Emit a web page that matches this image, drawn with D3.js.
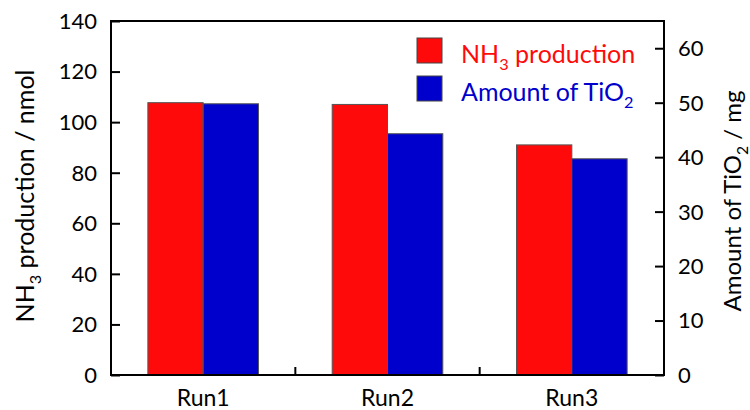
<!DOCTYPE html>
<html>
<head>
<meta charset="utf-8">
<script src="https://cdn.jsdelivr.net/npm/d3@7"></script>
<style>
  html, body { margin: 0; padding: 0; background: #fff; }
  svg { display: block; font-family: Lato, "Open Sans", sans-serif; }
</style>
</head>
<body>
<svg id="chart" width="750" height="410"></svg>
<script>
// Runs and their measured values
const categories = ["Run1", "Run2", "Run3"];
const nh3Production = [107.7, 107.0, 91.0];   // nmol (left axis)
const tio2Amount = [49.8, 44.3, 39.7];        // mg (right axis)
const leftTicks = [0, 20, 40, 60, 80, 100, 120, 140];
const rightTicks = [0, 10, 20, 30, 40, 50, 60];

const svg = d3.select("#chart");
const margin = { left: 111, right: 86, top: 21, bottom: 35 };
const W = 750, H = 410;
const x0 = margin.left, x1 = W - margin.right;
const y0 = H - margin.bottom, y1 = margin.top;

const x = d3.scaleBand().domain(categories).range([x0, x1]).paddingInner(0).paddingOuter(0);
const yL = d3.scaleLinear().domain([0, 140]).range([y0, y1]);
const yR = d3.scaleLinear().domain([0, 65]).range([y0, y1]);

const barW = x.bandwidth() * 0.3;
const red = "#ff0a0a", blue = "#0000cc";

// bars
const g = svg.append("g");
categories.forEach((c, i) => {
  const cx = x(c) + x.bandwidth() / 2;
  g.append("rect")
    .attr("x", cx - barW).attr("y", yL(nh3Production[i]))
    .attr("width", barW).attr("height", y0 - yL(nh3Production[i]))
    .attr("fill", red).attr("stroke", "#555").attr("stroke-width", 1);
  g.append("rect")
    .attr("x", cx).attr("y", yR(tio2Amount[i]))
    .attr("width", barW).attr("height", y0 - yR(tio2Amount[i]))
    .attr("fill", blue).attr("stroke", "#555").attr("stroke-width", 1);
});

// frame: left, right, bottom axes plus top line
const axisStroke = 2;
svg.append("path")
  .attr("d", `M${x0},${y1} L${x1},${y1} L${x1},${y0} L${x0},${y0} Z`)
  .attr("fill", "none").attr("stroke", "#000").attr("stroke-width", axisStroke);

const tickFont = 22;
const titleFont = 25;

// left axis ticks (inward)
const left = svg.append("g").attr("transform", `translate(${x0},0)`)
  .call(d3.axisRight(yL).tickValues(leftTicks).tickSize(9).tickFormat(""));
left.select(".domain").remove();
left.selectAll("line").attr("stroke", "#000").attr("stroke-width", axisStroke);
svg.append("g").selectAll("text").data(leftTicks).join("text")
  .attr("x", x0 - 14).attr("y", d => yL(d)).attr("dy", "0.36em")
  .attr("text-anchor", "end").attr("font-size", tickFont).attr("fill", "#000")
  .text(d => d);

// right axis ticks (inward)
const right = svg.append("g").attr("transform", `translate(${x1},0)`)
  .call(d3.axisLeft(yR).tickValues(rightTicks).tickSize(9).tickFormat(""));
right.select(".domain").remove();
right.selectAll("line").attr("stroke", "#000").attr("stroke-width", axisStroke);
svg.append("g").selectAll("text").data(rightTicks).join("text")
  .attr("x", x1 + 14).attr("y", d => yR(d)).attr("dy", "0.36em")
  .attr("text-anchor", "start").attr("font-size", tickFont).attr("fill", "#000")
  .text(d => d);

// bottom category dividers (inward) and labels
const dividers = categories.slice(1).map(c => x(c));
svg.append("g").selectAll("line").data(dividers).join("line")
  .attr("x1", d => d).attr("x2", d => d).attr("y1", y0).attr("y2", y0 - 8)
  .attr("stroke", "#000").attr("stroke-width", axisStroke);
svg.append("g").selectAll("text").data(categories).join("text")
  .attr("x", d => x(d) + x.bandwidth() / 2).attr("y", y0 + 31)
  .attr("text-anchor", "middle").attr("font-size", 23).attr("fill", "#000")
  .text(d => d);

// text with a subscript part
function withSub(sel, parts, size) {
  parts.forEach(p => {
    const t = sel.append("tspan").text(p.t);
    if (p.sub) t.attr("font-size", size * 0.65).attr("dy", size * 0.28);
    if (p.after) t.attr("dy", -size * 0.28);
  });
}
const lt = svg.append("text")
  .attr("transform", `translate(34,196) rotate(-90)`)
  .attr("text-anchor", "middle").attr("font-size", titleFont).attr("fill", "#000");
withSub(lt, [{ t: "NH" }, { t: "3", sub: true }, { t: " production / nmol", after: true }], titleFont);

const rightTitleFont = 24;
const rt = svg.append("text")
  .attr("transform", `translate(741,201) rotate(-90)`)
  .attr("text-anchor", "middle").attr("font-size", rightTitleFont).attr("fill", "#000");
withSub(rt, [{ t: "Amount of TiO" }, { t: "2", sub: true }, { t: " / mg", after: true }], rightTitleFont);

// legend
const legendItems = [
  { color: red, parts: [{ t: "NH" }, { t: "3", sub: true }, { t: " production", after: true }] },
  { color: blue, parts: [{ t: "Amount of TiO" }, { t: "2", sub: true }] }
];
const legend = svg.append("g").attr("transform", "translate(417,38)");
legendItems.forEach((it, i) => {
  const row = legend.append("g").attr("transform", `translate(0,${i * 38})`);
  row.append("rect").attr("width", 25).attr("height", 25)
    .attr("fill", it.color).attr("stroke", "#444").attr("stroke-width", 1);
  const t = row.append("text").attr("x", 44).attr("y", 25)
    .attr("font-size", titleFont).attr("fill", it.color);
  withSub(t, it.parts, titleFont);
});
</script>
</body>
</html>
